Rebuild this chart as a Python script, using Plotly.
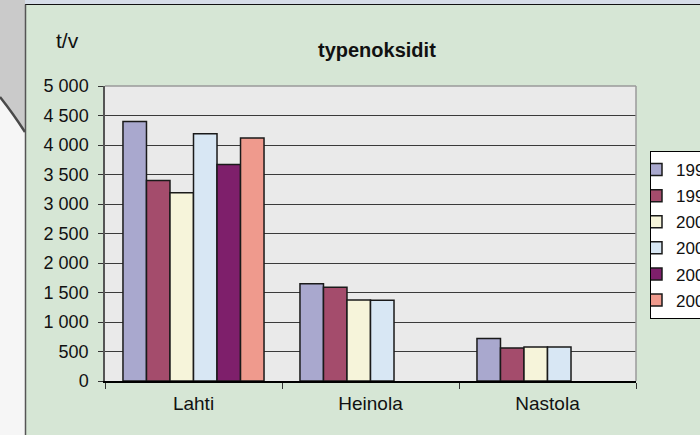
import plotly.graph_objects as go

categories = ["Lahti", "Heinola", "Nastola"]
series_names = ["1990", "1995", "2000", "2003", "2005", "2007"]
values = [
    [4400, 1650, 720],
    [3400, 1590, 560],
    [3190, 1375, 575],
    [4190, 1370, 575],
    [3670, None, None],
    [4120, None, None],
]
colors = ["#A9A8CE", "#A44C6C", "#F6F4DA", "#D8E7F4", "#7E1F6B", "#EF9A8D"]
y_tickvals = [0, 500, 1000, 1500, 2000, 2500, 3000, 3500, 4000, 4500, 5000]
y_ticktext = ["0", "500", "1 000", "1 500", "2 000", "2 500", "3 000", "3 500", "4 000", "4 500", "5 000"]

W, H = 700, 435
L, R, T, B = 105, 636, 86, 381


def px(x):
    return (x - L) / (R - L)


def py(y):
    return (B - y) / (B - T)


FONT = "Liberation Sans, Arial, sans-serif"

fig = go.Figure()
for name, vals, col in zip(series_names, values, colors):
    fig.add_trace(go.Bar(
        x=categories, y=vals, name=name, legendgroup=name,
        marker=dict(color=col, line=dict(color="#1a1a1a", width=1.5)),
    ))

shapes = [
    # left white/gray backdrop
    dict(type="rect", xref="paper", yref="paper", x0=px(0), x1=px(25), y0=py(435), y1=py(0),
         fillcolor="#F6F6F6", line=dict(width=0), layer="below"),
    dict(type="path", xref="paper", yref="paper",
         path=f"M {px(0)},{py(0)} L {px(25)},{py(0)} L {px(25)},{py(132)} Q {px(12)},{py(112)} {px(0)},{py(97)} Z",
         fillcolor="#CACACA", line=dict(width=0), layer="below"),
    dict(type="path", xref="paper", yref="paper",
         path=f"M {px(0)},{py(97)} Q {px(12)},{py(112)} {px(25)},{py(132)}",
         line=dict(color="#4a4a4a", width=2.5), layer="below"),
    # top strip
    dict(type="rect", xref="paper", yref="paper", x0=px(25), x1=px(700), y0=py(4), y1=py(0),
         fillcolor="#D6DDE8", line=dict(width=0), layer="below"),
    # frame lines
    dict(type="line", xref="paper", yref="paper", x0=px(25), x1=px(700), y0=py(4.5), y1=py(4.5),
         line=dict(color="#111111", width=1.2)),
    dict(type="line", xref="paper", yref="paper", x0=px(25.5), x1=px(25.5), y0=py(4.5), y1=py(435),
         line=dict(color="#555555", width=1.5)),
    # plot area top/right border
    dict(type="line", xref="paper", yref="paper", x0=0, x1=1, y0=1, y1=1,
         line=dict(color="#9a9a9a", width=1.5)),
    dict(type="line", xref="paper", yref="paper", x0=1, x1=1, y0=0, y1=1,
         line=dict(color="#9a9a9a", width=1.5)),
]

fig.update_layout(
    width=W, height=H,
    margin=dict(l=L, r=W - R, t=T, b=H - B, autoexpand=False),
    paper_bgcolor="#D6E6D5",
    plot_bgcolor="#EAEAEA",
    barmode="group",
    bargap=0.203,
    bargroupgap=0,
    font=dict(family=FONT, color="#111111"),
    showlegend=True,
    legend=dict(
        x=px(650), y=py(151), xanchor="left", yanchor="top",
        bgcolor="#FFFFFF", bordercolor="#000000", borderwidth=1,
        font=dict(size=17, family=FONT, color="#111111"),
        tracegroupgap=1, itemwidth=30, indentation=-15,
    ),
    shapes=shapes,
    annotations=[
        dict(text="<b>typenoksidit</b>", xref="paper", yref="paper", x=px(377), y=py(50),
             xanchor="center", yanchor="middle", showarrow=False,
             font=dict(size=20, family=FONT, color="#111111")),
        dict(text="t/v", xref="paper", yref="paper", x=px(54), y=py(41),
             xanchor="left", yanchor="middle", showarrow=False,
             font=dict(size=21, family=FONT, color="#111111")),
    ],
)

fig.update_yaxes(
    range=[0, 5000], tickvals=y_tickvals, ticktext=y_ticktext,
    showgrid=True, gridcolor="#3a3a3a", gridwidth=1,
    showline=True, linecolor="#555555", linewidth=1.5,
    ticks="outside", ticklen=5, tickcolor="#333333", tickwidth=1.2,
    tickfont=dict(size=18, family=FONT, color="#111111"),
    ticklabelstandoff=6, zeroline=False, fixedrange=True,
)
fig.update_xaxes(
    showline=True, linecolor="#000000", linewidth=2,
    ticks="outside", ticklen=6, tickcolor="#333333", tickwidth=1.2,
    tickson="boundaries",
    tickfont=dict(size=19, family=FONT, color="#111111"),
    ticklabelstandoff=4, showgrid=False, fixedrange=True,
)

fig.write_html(
    "out.html",
    config={"displayModeBar": False},
    post_script="document.body.style.margin='0';document.body.style.overflow='hidden';",
)
